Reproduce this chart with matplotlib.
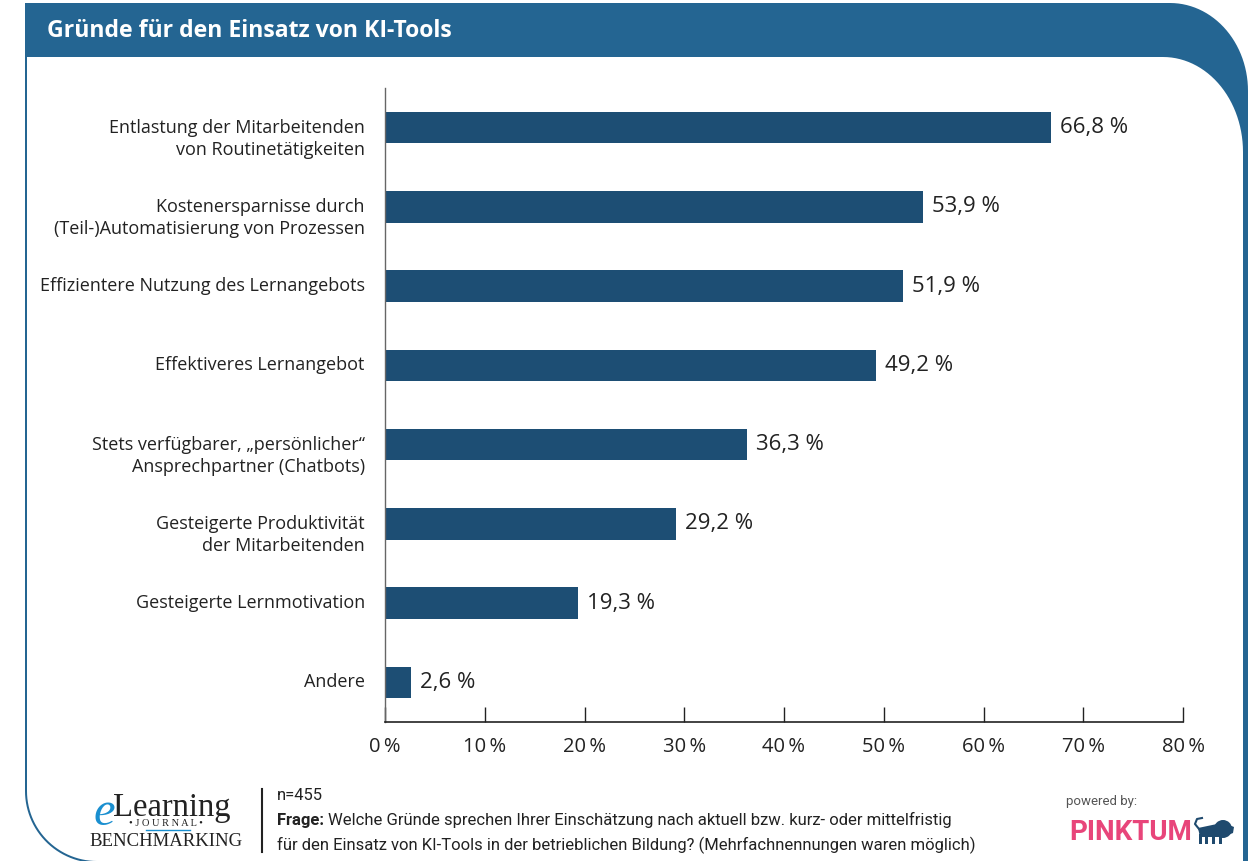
import numpy as np
import matplotlib
matplotlib.use("Agg")
import matplotlib.pyplot as plt
from matplotlib.path import Path
from matplotlib.patches import PathPatch, Circle, Polygon, Rectangle

categories = [
    "Entlastung der Mitarbeitenden\nvon Routinetätigkeiten",
    "Kostenersparnisse durch\n(Teil-)Automatisierung von Prozessen",
    "Effizientere Nutzung des Lernangebots",
    "Effektiveres Lernangebot",
    "Stets verfügbarer, „persönlicher“\nAnsprechpartner (Chatbots)",
    "Gesteigerte Produktivität\nder Mitarbeitenden",
    "Gesteigerte Lernmotivation",
    "Andere",
]
values = [66.8, 53.9, 51.9, 49.2, 36.3, 29.2, 19.3, 2.6]
xticks = [0, 10, 20, 30, 40, 50, 60, 70, 80]

title = "Gründe für den Einsatz von KI-Tools"
sample_note = "n=455"
question_1 = "Welche Gründe sprechen Ihrer Einschätzung nach aktuell bzw. kurz- oder mittelfristig"
question_2 = "für den Einsatz von KI-Tools in der betrieblichen Bildung? (Mehrfachnennungen waren möglich)"

HEADER = "#246592"
BAR = "#1d4e74"
TEXT = "#222222"
FOOT_FONT = "Roboto"
W, H = 1249, 861


def rounded_shape(x0, y0, x1, y1, rx_tr, ry_tr, r_bl):
    # outline with a round top-right and bottom-left corner (pixel coords, y down)
    t = np.linspace(0, np.pi / 2, 30)
    pts = [(x0, y0), (x1 - rx_tr, y0)]
    pts += list(zip(x1 - rx_tr + rx_tr * np.sin(t), y0 + ry_tr - ry_tr * np.cos(t)))
    pts += [(x1, y1), (x0 + r_bl, y1)]
    pts += list(zip(x0 + r_bl - r_bl * np.sin(t), y1 - r_bl + r_bl * np.cos(t)))
    pts += [(x0, y0)]
    return Path(pts, closed=True)


fig = plt.figure(figsize=(W / 100, H / 100), dpi=100)
fig.patch.set_facecolor("white")

# frame and header band
bg = fig.add_axes([0, 0, 1, 1])
bg.set_xlim(0, W)
bg.set_ylim(H, 0)
bg.axis("off")
bg.add_patch(PathPatch(rounded_shape(25, 3, 1248, 863, 78, 88, 72), facecolor=HEADER, edgecolor="none"))
bg.add_patch(PathPatch(rounded_shape(27, 57, 1243, 861, 80, 95, 70), facecolor="white", edgecolor="none"))
bg.text(47, 31, title, color="white", fontsize=16.6, fontweight="bold", family="Open Sans",
        va="center", ha="left")

# footer
bg.plot([262, 262], [789, 852], color=TEXT, lw=1.5)
bg.text(277, 795, sample_note, fontsize=12, family=FOOT_FONT, color=TEXT, va="center")
frage = bg.text(277, 820, "Frage:", fontsize=12, fontweight="bold", family=FOOT_FONT,
                color=TEXT, va="center")
bg.annotate(question_1, xy=(1, 0.5), xycoords=frage, xytext=(3, 0), textcoords="offset points",
            fontsize=12, family=FOOT_FONT, color=TEXT, va="center")
bg.text(277, 845, question_2, fontsize=12, family=FOOT_FONT, color=TEXT, va="center")

# eLearning Journal logo
bg.text(113, 816, "Learning", fontsize=23.5, family="Liberation Serif", color=TEXT,
        va="baseline", ha="left")
bg.text(94, 825, "e", fontsize=35, family="Liberation Serif", style="italic", color="#1a8fd0",
        va="baseline")
bg.text(166, 823, "• J O U R N A L •", fontsize=7.5, family="Liberation Serif", color=TEXT,
        va="center", ha="center")
bg.plot([146, 190], [830, 830], color="#1a8fd0", lw=1)
bg.text(166, 841, "BENCHMARKING", fontsize=13.5, family="Liberation Serif", color=TEXT,
        va="center", ha="center")

# sponsor
bg.text(1066, 802, "powered by:", fontsize=9.5, family=FOOT_FONT, color="#555555", va="center")
bg.text(1069, 833, "PINKTUM", fontsize=20, fontweight="bold", family="Roboto",
        color="#e8457a", va="center")
lion = "#1f4a6e"
bg.add_patch(Circle((1223, 829), 9, color=lion, lw=0))
bg.add_patch(Polygon([(1227, 824), (1234, 827), (1233, 833), (1228, 835)], closed=True,
                     color=lion, lw=0))
bg.add_patch(Polygon([(1198, 828), (1217, 824), (1219, 837), (1200, 837)], closed=True,
                     color=lion, lw=0))
for lx in [1199, 1205, 1212, 1219]:
    bg.add_patch(Rectangle((lx, 834), 3, 10, color=lion, lw=0))
bg.plot([1199, 1195, 1197, 1202], [829, 824, 819, 818], color=lion, lw=1.5)

# bar chart
ax = fig.add_axes([385 / W, 1 - 722 / H, (1183 - 385) / W, (722 - 88) / H])
y = np.arange(len(categories))
ax.barh(y, values, height=0.40, color=BAR)
ax.set_xlim(0, 80)
ax.set_ylim(len(categories) - 0.5, -0.5)

for yi, v in zip(y, values):
    ax.annotate(f"{v:.1f} %".replace(".", ","), xy=(v, yi), xytext=(6.5, 0), textcoords="offset points",
                va="center", ha="left", fontsize=16, family="Open Sans", color=TEXT)

ax.set_yticks([])
for yi, label in zip(y, categories):
    for k, line in enumerate(label.split("\n")):
        ax.annotate(line, xy=(0, yi), xycoords=("axes fraction", "data"),
                    xytext=(-14.5, -16 * k), textcoords="offset points",
                    va="center", ha="right", fontsize=13, family="Open Sans", color=TEXT)

ax.set_xticks(xticks)
ax.set_xticklabels([f"{t}\u2009%" for t in xticks], fontsize=14.5, family="Open Sans", color=TEXT)
ax.tick_params(axis="x", direction="in", length=11, width=1, color=TEXT, pad=11)
for side in ["top", "right"]:
    ax.spines[side].set_visible(False)
ax.spines["bottom"].set_color(TEXT)
ax.spines["bottom"].set_linewidth(1.2)
ax.spines["left"].set_color("#666666")
ax.spines["left"].set_linewidth(1)
ax.set_facecolor("none")

fig.savefig("out.png", dpi=100)
